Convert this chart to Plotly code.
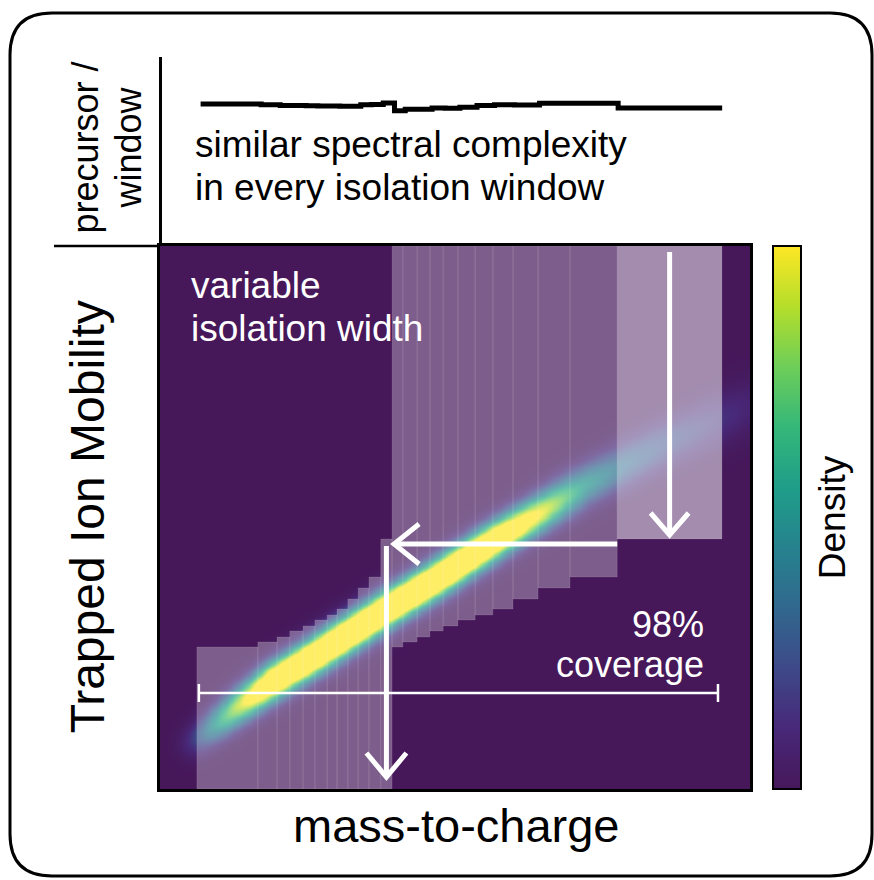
import numpy as np
import plotly.graph_objects as go

W, H = 874, 880

# ---------------- data ----------------
mz_range = [300, 1500]
mob_range = [0.6, 1.6]

# paired isolation windows: lower-mobility half and upper-mobility half
lower_mz_edges = [375, 499, 538, 564, 591, 615, 640, 660, 682, 703, 725, 749, 772]
upper_mz_edges = [772, 794, 823, 849, 876, 906, 941, 977, 1018, 1069, 1134, 1230, 1443]
split_mobility = [0.8615, 0.8707, 0.8799, 0.8910, 0.9002, 0.9112, 0.9204,
                  0.9315, 0.9499, 0.9702, 0.9904, 1.0604]

precursors_per_window = [902, 897, 892, 892, 891, 889, 889, 887, 887, 897, 898, 908,
                         859, 868, 868, 876, 874, 881, 892, 897, 895, 906, 906, 876]

# precursor density ridge (centre line, relative height, width in mobility units)
band_mz = [371, 453, 534, 625, 758, 870, 981, 1073, 1154, 1236, 1317, 1480, 1561]
band_mob = [0.685, 0.747, 0.801, 0.852, 0.930, 0.992, 1.059, 1.110, 1.156, 1.195,
            1.234, 1.302, 1.331]
band_amp = [0.15, 0.85, 1.5, 1.6, 1.6, 1.6, 1.45, 1.0, 0.55, 0.35, 0.25, 0.10, 0.03]
band_width = [0.019, 0.020, 0.021, 0.0212, 0.0212, 0.0212, 0.0215, 0.022, 0.024,
              0.026, 0.028, 0.032, 0.034]

coverage_mobility = 0.7768

# ---------------- layout geometry (pixels) ----------------
X0, X1 = 160, 750      # main plot left/right
Y0, Y1 = 246, 789      # main plot top/bottom
TOP_Y0 = 57            # top panel top


def px_x(m):
    return X0 + (np.asarray(m, float) - mz_range[0]) / (mz_range[1] - mz_range[0]) * (X1 - X0)


def px_y(v):
    return Y1 - (np.asarray(v, float) - mob_range[0]) / (mob_range[1] - mob_range[0]) * (Y1 - Y0)


def dmz(p):
    return p * (mz_range[1] - mz_range[0]) / (X1 - X0)


def dmob(p):
    return p * (mob_range[1] - mob_range[0]) / (Y1 - Y0)


def px(x):
    return x / W


def py(y):
    return 1 - y / H


# ---------------- density grid ----------------
grid_mz = np.linspace(mz_range[0], mz_range[1], 181)
grid_mob = np.linspace(mob_range[0], mob_range[1], 167)
gx = px_x(grid_mz)[None, :]
gy = px_y(grid_mob)[:, None]
kx = px_x(band_mz)
ky = px_y(band_mob)
seg = np.hypot(np.diff(kx), np.diff(ky))
s = np.concatenate([[0], np.cumsum(seg)])
sd = np.linspace(0, s[-1], 500)
cx = np.interp(sd, s, kx)
cy = np.interp(sd, s, ky)
ca = np.interp(sd, s, band_amp)
cs = np.interp(sd, s, np.asarray(band_width) * (Y1 - Y0) / (mob_range[1] - mob_range[0]))
z = np.zeros((len(grid_mob), len(grid_mz)))
for i in range(len(sd)):
    z = np.maximum(z, ca[i] * np.exp(-((gx - cx[i]) ** 2 + (gy - cy[i]) ** 2) / (2 * cs[i] ** 2)))

viridis = ["#46185a", "#482878", "#3e4989", "#31688e", "#26828e", "#1f9e89",
           "#35b779", "#6ece58", "#b5de2b", "#fde725"]
cscale = [[i / (len(viridis) - 1), c] for i, c in enumerate(viridis)]

fig = go.Figure()

fig.add_trace(go.Heatmap(
    x=grid_mz, y=grid_mob, z=z, zmin=0, zmax=1, colorscale=cscale, zsmooth="best",
    hoverinfo="skip", xaxis="x", yaxis="y",
    colorbar=dict(x=px(773), xanchor="left", y=py(Y0), yanchor="top",
                  len=Y1 - Y0, lenmode="pixels", thickness=28, thicknessmode="pixels",
                  outlinecolor="black", outlinewidth=2, showticklabels=False, ticks="",
                  xpad=0, ypad=0),
))

# top panel: precursors per window (step line)
all_edges = lower_mz_edges + upper_mz_edges[1:]
fig.add_trace(go.Scatter(
    x=all_edges, y=precursors_per_window + [precursors_per_window[-1]],
    mode="lines", line=dict(color="black", width=5, shape="hv"),
    xaxis="x2", yaxis="y2", hoverinfo="skip", showlegend=False,
))

shapes = []
# windows
n = len(split_mobility)
for i in range(n):
    last = i == n - 1
    shapes.append(dict(type="rect", xref="x", yref="y",
                       x0=lower_mz_edges[i], x1=lower_mz_edges[i + 1],
                       y0=mob_range[0], y1=split_mobility[i],
                       fillcolor="rgba(255,255,255,0.30)",
                       line=dict(color="rgba(255,255,255,0.10)", width=1), layer="above"))
    shapes.append(dict(type="rect", xref="x", yref="y",
                       x0=upper_mz_edges[i], x1=upper_mz_edges[i + 1],
                       y0=split_mobility[i], y1=mob_range[1],
                       fillcolor="rgba(255,255,255,0.50)" if last else "rgba(255,255,255,0.30)",
                       line=dict(color="rgba(255,255,255,0.10)", width=1), layer="above"))


def add_line(xs, ys, width):
    fig.add_trace(go.Scatter(x=xs, y=ys, mode="lines",
                             line=dict(color="white", width=width),
                             xaxis="x", yaxis="y", hoverinfo="skip", showlegend=False))


split = split_mobility[-1]
# 1: down the highlighted window
ax = (upper_mz_edges[-2] + upper_mz_edges[-1]) / 2
tip = split + dmob(4)
add_line([ax, ax, None, ax - dmz(19), ax, ax + dmz(19)],
         [mob_range[1] - dmob(6), tip, None, tip + dmob(22), tip, tip + dmob(22)], 5)
# 2: left to the paired window
ay = split - dmob(5)
tipx = lower_mz_edges[-1] + dmz(2)
add_line([upper_mz_edges[-2], tipx, None, tipx + dmz(25), tipx, tipx + dmz(25)],
         [ay, ay, None, ay + dmob(20), ay, ay - dmob(20)], 5)
# 3: down the paired window
bx = (lower_mz_edges[-2] + lower_mz_edges[-1]) / 2
tipy = mob_range[0] + dmob(12)
add_line([bx, bx, None, bx - dmz(20), bx, bx + dmz(20)],
         [split - dmob(7), tipy, None, tipy + dmob(24), tipy, tipy + dmob(24)], 5)
# coverage bracket
cl = lower_mz_edges[0] + dmz(2)
cr = upper_mz_edges[-1] - dmz(4)
add_line([cl, cr, None, cl, cl, None, cr, cr],
         [coverage_mobility, coverage_mobility, None,
          coverage_mobility - dmob(9), coverage_mobility + dmob(9), None,
          coverage_mobility - dmob(9), coverage_mobility + dmob(9)], 2.5)

# outer rounded box
bx0, bx1, by0, by1, r = 10, 872, 13, 876, 42
path = (f"M {px(bx0 + r)} {py(by0)} L {px(bx1 - r)} {py(by0)} "
        f"Q {px(bx1)} {py(by0)} {px(bx1)} {py(by0 + r)} L {px(bx1)} {py(by1 - r)} "
        f"Q {px(bx1)} {py(by1)} {px(bx1 - r)} {py(by1)} L {px(bx0 + r)} {py(by1)} "
        f"Q {px(bx0)} {py(by1)} {px(bx0)} {py(by1 - r)} L {px(bx0)} {py(by0 + r)} "
        f"Q {px(bx0)} {py(by0)} {px(bx0 + r)} {py(by0)} Z")
shapes.append(dict(type="path", xref="paper", yref="paper", path=path,
                   line=dict(color="black", width=3), layer="below"))
# separator line left of main plot top
shapes.append(dict(type="line", xref="paper", yref="paper",
                   x0=px(54), x1=px(X0), y0=py(Y0), y1=py(Y0),
                   line=dict(color="black", width=2.5)))

FONT = "Liberation Sans, Arial, sans-serif"
annotations = []


def ann(text, x, base, size, color="black", xanchor="left", angle=0, pad=1):
    if angle == 0:
        yc = base - 0.3465 * size
        annotations.append(dict(text=text, x=px(x), y=py(yc), xref="paper", yref="paper",
                                xanchor=xanchor, yanchor="middle", showarrow=False,
                                borderpad=pad,
                                font=dict(family=FONT, size=size, color=color)))
    else:
        xc = base - 0.3465 * size
        annotations.append(dict(text=text, x=px(xc), y=py(x), xref="paper", yref="paper",
                                xanchor="center", yanchor="middle", showarrow=False,
                                textangle=-90, borderpad=pad,
                                font=dict(family=FONT, size=size, color=color)))


ann("similar spectral complexity", 193, 157, 37)
ann("in every isolation window", 193, 200, 37)
ann("variable", 189, 298, 37, color="white")
ann("isolation width", 189, 341, 37, color="white")
ann("98%", 705, 637, 36, color="white", xanchor="right", pad=0)
ann("coverage", 705, 677, 36, color="white", xanchor="right", pad=0)
ann("mass-to-charge", 456, 842, 47, xanchor="center")
ann("Trapped Ion Mobility", 517, 104, 48, angle=-90)
ann("Density", 517, 845, 37, angle=-90)
ann("precursor /", 148, 97, 36, angle=-90)
ann("window", 148, 140, 36, angle=-90)

axis_common = dict(showgrid=False, zeroline=False, ticks="", showticklabels=False)
fig.update_layout(
    width=W, height=H, autosize=False,
    margin=dict(l=0, r=0, t=0, b=0),
    paper_bgcolor="white", plot_bgcolor="white",
    showlegend=False,
    xaxis=dict(domain=[px(X0), px(X1)], range=mz_range, showline=True, mirror=True,
               linecolor="black", linewidth=3, **axis_common),
    yaxis=dict(domain=[py(Y1), py(Y0)], range=mob_range, showline=True, mirror=True,
               linecolor="black", linewidth=3, **axis_common),
    xaxis2=dict(domain=[px(X0 + 2), px(X1)], range=[mz_range[0] + dmz(-2), mz_range[1]],
                anchor="y2", visible=False),
    yaxis2=dict(domain=[py(Y0), py(TOP_Y0)], range=[0, 1200], anchor="x2",
                showline=True, linecolor="black", linewidth=2.5, **axis_common),
    shapes=shapes, annotations=annotations,
)

fig.write_html("out.html")
